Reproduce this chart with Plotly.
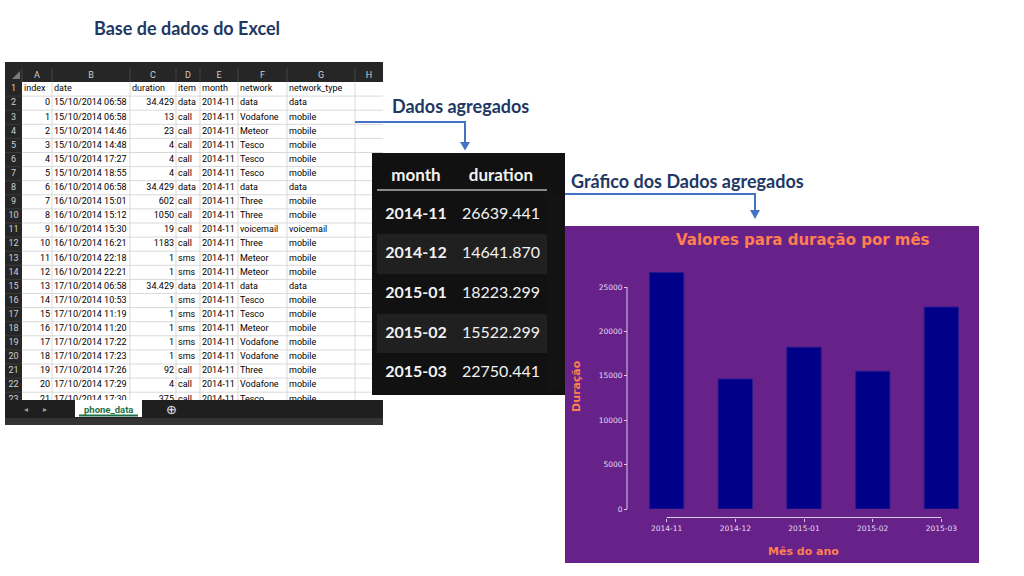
import plotly.graph_objects as go

# ---------------- aggregated data (dark table + bar chart) ----------------
months = ['2014-11', '2014-12', '2015-01', '2015-02', '2015-03']
durations = [26639.441, 14641.870, 18223.299, 15522.299, 22750.441]
yticks = [0, 5000, 10000, 15000, 20000, 25000]
agg_headers = ['month', 'duration']

# ---------------- Excel sheet data ----------------
sheet_letters = ['A', 'B', 'C', 'D', 'E', 'F', 'G', 'H']
sheet_fields = ['index', 'date', 'duration', 'item', 'month', 'network', 'network_type']
row_numbers = [1, 2, 3, 4, 5, 6, 7, 8, 9, 10, 11, 12, 13, 14, 15, 16, 17, 18, 19, 20, 21, 22, 23]
sheet_index = [0, 1, 2, 3, 4, 5, 6, 7, 8, 9, 10, 11, 12, 13, 14, 15, 16, 17, 18, 19, 20, 21]
sheet_date = ['15/10/2014 06:58', '15/10/2014 06:58', '15/10/2014 14:46', '15/10/2014 14:48',
              '15/10/2014 17:27', '15/10/2014 18:55', '16/10/2014 06:58', '16/10/2014 15:01',
              '16/10/2014 15:12', '16/10/2014 15:30', '16/10/2014 16:21', '16/10/2014 22:18',
              '16/10/2014 22:21', '17/10/2014 06:58', '17/10/2014 10:53', '17/10/2014 11:19',
              '17/10/2014 11:20', '17/10/2014 17:22', '17/10/2014 17:23', '17/10/2014 17:26',
              '17/10/2014 17:29', '17/10/2014 17:30']
sheet_duration = [34.429, 13, 23, 4, 4, 4, 34.429, 602, 1050, 19, 1183, 1, 1, 34.429,
                  1, 1, 1, 1, 1, 92, 4, 375]
sheet_item = ['data', 'call', 'call', 'call', 'call', 'call', 'data', 'call', 'call', 'call',
              'call', 'sms', 'sms', 'data', 'sms', 'sms', 'sms', 'sms', 'sms', 'call', 'call',
              'call']
sheet_month = ['2014-11', '2014-11', '2014-11', '2014-11', '2014-11', '2014-11', '2014-11',
               '2014-11', '2014-11', '2014-11', '2014-11', '2014-11', '2014-11', '2014-11',
               '2014-11', '2014-11', '2014-11', '2014-11', '2014-11', '2014-11', '2014-11',
               '2014-11']
sheet_network = ['data', 'Vodafone', 'Meteor', 'Tesco', 'Tesco', 'Tesco', 'data', 'Three',
                 'Three', 'voicemail', 'Three', 'Meteor', 'Meteor', 'data', 'Tesco', 'Tesco',
                 'Meteor', 'Vodafone', 'Vodafone', 'Three', 'Vodafone', 'Tesco']
sheet_network_type = ['data', 'mobile', 'mobile', 'mobile', 'mobile', 'mobile', 'data',
                      'mobile', 'mobile', 'voicemail', 'mobile', 'mobile', 'mobile', 'data',
                      'mobile', 'mobile', 'mobile', 'mobile', 'mobile', 'mobile', 'mobile',
                      'mobile']
sheet_tab = 'phone_data'

# ---------------- texts ----------------
title_excel = 'Base de dados do Excel'
title_agg = 'Dados agregados'
title_chart_section = 'Gráfico dos Dados agregados'
chart_title = 'Valores para duração por mês'
x_label = 'Mês do ano'
y_label = 'Duração'

# ---------------- layout constants (pixels of the 1024x576 design) ----------------
W, H = 1024, 576
FIG_H = 581          # rendered height; the page is photographed slightly squeezed
YS = FIG_H / H       # pixel-height correction for pixel-sized table rows
COL_EDGES = [5, 22, 52, 130, 176, 200, 238, 287, 355, 383]   # sheet column borders
SHEET_TOP, HEAD_BOTTOM, ROW_H, SHEET_BOTTOM = 62, 82, 14.1, 400
RIGHT_ALIGNED = {0, 2}   # index, duration


def px(x):
    return x / W


def py(y):
    return 1 - y / H


BLUE = '#4472c4'
NAVY_TXT = '#1f3864'
CORAL = '#ff7f50'
PURPLE = '#67228a'
SPINE = '#d9c9e6'
XL_DARK = '#262626'
XL_GRID = '#d9d9d9'
SHEET_FONT = dict(family='Roboto', size=9, color='#000000')

fig = go.Figure()

# ---------------- Excel sheet (text on a pixel-scaled subplot) ----------------
row_center = [HEAD_BOTTOM + ROW_H * (i + 0.5) for i in range(len(row_numbers))]
sheet_columns = [
    [str(v) for v in sheet_index],
    sheet_date,
    [f'{v:g}' for v in sheet_duration],
    sheet_item,
    sheet_month,
    sheet_network,
    sheet_network_type,
]
# column letters
fig.add_trace(go.Scatter(
    x=[(COL_EDGES[i + 1] + COL_EDGES[i + 2]) / 2 for i in range(len(sheet_letters))],
    y=[75.5] * len(sheet_letters), text=sheet_letters, mode='text',
    textposition='middle center', textfont=dict(family='Roboto', size=9, color='#cfcfcf'),
    xaxis='x2', yaxis='y2', hoverinfo='skip', showlegend=False))
# row numbers
fig.add_trace(go.Scatter(
    x=[(COL_EDGES[0] + COL_EDGES[1]) / 2] * len(row_numbers), y=row_center,
    text=[str(r) for r in row_numbers], mode='text', textposition='middle center',
    textfont=dict(family='Roboto', size=9, color='#cfcfcf'),
    xaxis='x2', yaxis='y2', hoverinfo='skip', showlegend=False))
# cells (first row = field names, left aligned)
for ci, (field, col) in enumerate(zip(sheet_fields, sheet_columns)):
    left, right = COL_EDGES[ci + 1], COL_EDGES[ci + 2]
    fig.add_trace(go.Scatter(
        x=[left + 2], y=[row_center[0]], text=[field], mode='text',
        textposition='middle right', textfont=SHEET_FONT,
        xaxis='x2', yaxis='y2', hoverinfo='skip', showlegend=False))
    if ci in RIGHT_ALIGNED:
        xs, pos = [right - 2] * len(col), 'middle left'
    else:
        xs, pos = [left + 2] * len(col), 'middle right'
    fig.add_trace(go.Scatter(
        x=xs, y=row_center[1:], text=col, mode='text', textposition=pos,
        textfont=SHEET_FONT, xaxis='x2', yaxis='y2', hoverinfo='skip', showlegend=False))

# ---------------- aggregated (dark) table ----------------
stripes = ['rgba(0,0,0,0)', '#202020', 'rgba(0,0,0,0)', '#202020', 'rgba(0,0,0,0)']
T_TOP, T_HEAD, T_ROW = 155.5, 39, 39.25
fig.add_trace(go.Table(
    domain=dict(x=[px(377), px(547)], y=[py(T_TOP + T_HEAD + 5 * T_ROW), py(T_TOP)]),
    columnwidth=[78, 92],
    header=dict(values=[f'<b>{h}</b>' for h in agg_headers],
                fill_color='rgba(0,0,0,0)', line=dict(color='rgba(0,0,0,0)', width=0),
                font=dict(family='Lato', size=17, color='#f2f2f2'),
                align='center', height=T_HEAD * YS),
    cells=dict(values=[[f'<b>{m}</b>' for m in months],
                       [f'<span>{d:.3f}</span>' for d in durations]],
               fill_color=[stripes, stripes], line=dict(color='rgba(0,0,0,0)', width=0),
               font=dict(family='Lato', size=16, color='#f2f2f2'),
               align='center', height=T_ROW * YS),
))

# ---------------- bar chart ----------------
fig.add_trace(go.Bar(x=months, y=durations, marker=dict(color='#000088',
                                                       line=dict(color='#2b1a8c', width=1)),
                     showlegend=False, hoverinfo='x+y'))

shapes = []


def rect(x0, x1, y0, y1, color, layer='below'):
    shapes.append(dict(type='rect', xref='paper', yref='paper', x0=px(x0), x1=px(x1),
                       y0=py(y1), y1=py(y0), fillcolor=color, line=dict(width=0), layer=layer))


def hline(x0, x1, y, color, width=1, layer='below'):
    shapes.append(dict(type='line', xref='paper', yref='paper', x0=px(x0), x1=px(x1),
                       y0=py(y), y1=py(y), line=dict(color=color, width=width), layer=layer))


def vline(x, y0, y1, color, width=1, layer='below'):
    shapes.append(dict(type='line', xref='paper', yref='paper', x0=px(x), x1=px(x),
                       y0=py(y0), y1=py(y1), line=dict(color=color, width=width), layer=layer))


# sheet frame: dark header band + row-number column
rect(COL_EDGES[0], COL_EDGES[-1], SHEET_TOP, HEAD_BOTTOM, XL_DARK)
rect(COL_EDGES[0], COL_EDGES[1], SHEET_TOP, SHEET_BOTTOM, XL_DARK)
for k in range(1, len(row_numbers) + 1):
    yk = HEAD_BOTTOM + ROW_H * k
    hline(COL_EDGES[1], COL_EDGES[-1], yk, XL_GRID)
    hline(COL_EDGES[0], COL_EDGES[1], yk, '#3a3a3a')
for xe in COL_EDGES[2:-1]:
    vline(xe, HEAD_BOTTOM, SHEET_BOTTOM, XL_GRID)
for xe in COL_EDGES[1:-1]:
    vline(xe, 68, HEAD_BOTTOM, '#454545')
shapes.append(dict(type='path', xref='paper', yref='paper', layer='below',
                   path=f'M {px(12)},{py(79)} L {px(20)},{py(79)} L {px(20)},{py(71)} Z',
                   fillcolor='#7a7a7a', line=dict(width=0)))
# sheet tab bar (drawn above the partial last row)
rect(COL_EDGES[0], COL_EDGES[-1], SHEET_BOTTOM, 418, '#1f1f1f', layer='above')
rect(COL_EDGES[0], COL_EDGES[-1], 418, 425, '#333333', layer='above')
rect(75, 142, SHEET_BOTTOM, 417, '#ffffff', layer='above')
hline(79, 138, 415.5, '#1e7145', width=2, layer='above')
# dark panel
rect(372, 565, 153, 395, '#111111')
hline(377, 547, 190, '#8a8a8a', width=2, layer='above')
# purple panel
rect(565, 979, 226, 563, PURPLE)
# trimmed spines
shapes.append(dict(type='line', xref='paper', yref='y', x0=px(627), x1=px(627),
                   y0=yticks[0], y1=yticks[-1], line=dict(color=SPINE, width=1)))
shapes.append(dict(type='line', xref='x', yref='paper', x0=months[0], x1=months[-1],
                   y0=py(517.5), y1=py(517.5), line=dict(color=SPINE, width=1)))
# arrows
shapes.append(dict(type='path', xref='paper', yref='paper',
                   path=f'M {px(355)},{py(122)} L {px(465)},{py(122)} L {px(465)},{py(143)}',
                   line=dict(color=BLUE, width=2)))
shapes.append(dict(type='path', xref='paper', yref='paper', fillcolor=BLUE, line=dict(width=0),
                   path=f'M {px(460)},{py(142)} L {px(470)},{py(142)} L {px(465)},{py(150.5)} Z'))
shapes.append(dict(type='path', xref='paper', yref='paper',
                   path=f'M {px(565)},{py(194)} L {px(755)},{py(194)} L {px(755)},{py(211)}',
                   line=dict(color=BLUE, width=2)))
shapes.append(dict(type='path', xref='paper', yref='paper', fillcolor=BLUE, line=dict(width=0),
                   path=f'M {px(750)},{py(210)} L {px(760)},{py(210)} L {px(755)},{py(219)} Z'))

annotations = []


def txt(x, y, s, size, color, family='Lato', bold=False, angle=0, xanchor='center'):
    annotations.append(dict(x=px(x), y=py(y), xref='paper', yref='paper', showarrow=False,
                            text=f'<b>{s}</b>' if bold else s, textangle=angle,
                            xanchor=xanchor, yanchor='middle',
                            font=dict(family=family, size=size, color=color)))


txt(186.5, 28, title_excel, 18, NAVY_TXT, bold=True)
txt(460, 106, title_agg, 18, NAVY_TXT, bold=True)
txt(687, 181, title_chart_section, 18, NAVY_TXT, bold=True)
txt(108.5, 409, sheet_tab, 9.5, '#1e7145', family='Roboto', bold=True)
txt(26, 409, '◂', 8, '#9a9a9a', family='DejaVu Sans')
txt(45, 409, '▸', 8, '#9a9a9a', family='DejaVu Sans')
txt(171, 409.5, '⊕', 13, '#e8e8e8', family='DejaVu Sans')
txt(803, 240, chart_title, 15, CORAL, family='DejaVu Sans', bold=True)
txt(803, 551, x_label, 11, CORAL, family='DejaVu Sans', bold=True)
txt(576, 386, y_label, 11, CORAL, family='DejaVu Sans', bold=True, angle=-90)

hidden = dict(visible=False, showgrid=False, zeroline=False, fixedrange=True)
fig.update_layout(
    width=W, height=FIG_H, autosize=False,
    margin=dict(l=0, r=0, t=0, b=0),
    paper_bgcolor='#ffffff', plot_bgcolor='rgba(0,0,0,0)',
    bargap=0.5, showlegend=False,
    shapes=shapes, annotations=annotations,
    xaxis=dict(domain=[px(634), px(974)], range=[-0.475, 4.475], type='category',
               anchor='free', position=py(517.5), showgrid=False, zeroline=False,
               showline=False, ticks='outside', ticklen=3, tickcolor=SPINE, tickwidth=1,
               tickfont=dict(family='DejaVu Sans', size=7.5, color='#e6dcef'), fixedrange=True),
    yaxis=dict(domain=[py(509), py(509 - 28000 * 222 / 25000)], range=[0, 28000],
               anchor='free', position=px(627), showgrid=False, zeroline=False,
               showline=False, ticks='outside', ticklen=3, tickcolor=SPINE, tickwidth=1,
               tickvals=yticks, ticktext=[str(v) for v in yticks],
               tickfont=dict(family='DejaVu Sans', size=7.5, color='#e6dcef'), fixedrange=True),
    xaxis2=dict(domain=[px(COL_EDGES[0]), px(COL_EDGES[-1])],
                range=[COL_EDGES[0], COL_EDGES[-1]], anchor='y2', **hidden),
    yaxis2=dict(domain=[py(425), py(SHEET_TOP)], range=[425, SHEET_TOP], anchor='x2', **hidden),
)

page_css = ("var s=document.documentElement.style, b=document.body.style;"
            "s.margin='0';s.padding='0';s.overflow='hidden';"
            "b.margin='0';b.padding='0';b.overflow='hidden';")
fig.write_html('out.html', post_script=page_css, config={'displayModeBar': False})
